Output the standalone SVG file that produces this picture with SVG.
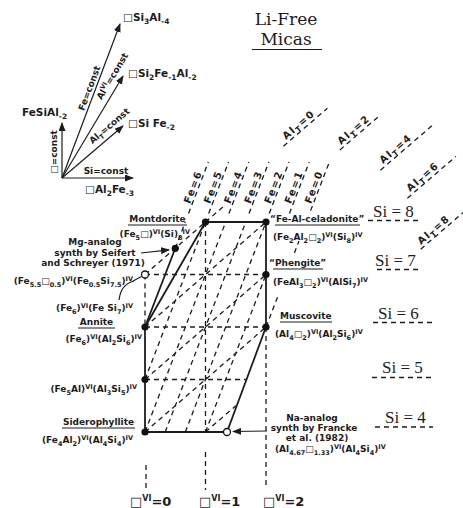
<svg xmlns="http://www.w3.org/2000/svg" width="463" height="508" viewBox="0 0 463 508">
<style>
.t{font-family:"DejaVu Sans",sans-serif;font-weight:bold;font-size:9px;fill:#1c1c1c}
.v{font-size:10.5px}
.b{font-size:6.5px}
.p{font-size:6.5px}
.bv{font-size:7.5px}
.lb{font-size:10px;letter-spacing:1.5px}
.si{font-family:"Liberation Serif",serif;font-size:17px;fill:#1c1c1c}
.ttl{font-family:"DejaVu Serif",serif;font-size:17px;text-anchor:middle;fill:#1c1c1c}
.sol{stroke:#1c1c1c;stroke-width:1.8;fill:none}
.thin{stroke:#1c1c1c;stroke-width:1.2;fill:none}
.dsh{stroke:#1c1c1c;stroke-width:1.3;stroke-dasharray:5 4;fill:none}
.ul{stroke:#1c1c1c;stroke-width:1.2}
.dot{fill:#111}
.opn{fill:#fff;stroke:#111;stroke-width:1.3}
</style>
<defs>
<marker id="ah" markerUnits="userSpaceOnUse" markerWidth="9" markerHeight="7" refX="8" refY="3.5" orient="auto" viewBox="0 0 9 7"><path d="M0,0 L9,3.5 L0,7 z" fill="#1c1c1c"/></marker>
</defs>
<rect width="463" height="508" fill="#fff"/>

<g id="title">
<text class="ttl" x="286" y="25">Li-Free</text>
<text class="ttl" x="286" y="45">Micas</text>
<line class="ul" x1="252" y1="49.5" x2="322" y2="49.5" stroke-width="1.6"/>
</g>

<g id="vector-key">
<g class="thin" stroke-width="1.6">
<line x1="62" y1="178" x2="120" y2="24" marker-end="url(#ah)"/>
<line x1="62" y1="178" x2="123" y2="76" marker-end="url(#ah)"/>
<line x1="62" y1="178" x2="123" y2="126" marker-end="url(#ah)"/>
<line x1="62" y1="178" x2="133" y2="178" marker-end="url(#ah)"/>
<line x1="62" y1="178" x2="62" y2="123" marker-end="url(#ah)"/>
</g>
<text class="t v" x="123" y="21">□Si<tspan class="bv" dy="2.5">3</tspan><tspan dy="-2.5">Al</tspan><tspan class="bv" dy="2.5">-4</tspan></text>
<text class="t v" x="128" y="77">□Si<tspan class="bv" dy="2.5">2</tspan><tspan dy="-2.5">Fe</tspan><tspan class="bv" dy="2.5">-1</tspan><tspan dy="-2.5">Al</tspan><tspan class="bv" dy="2.5">-2</tspan></text>
<text class="t v" x="128" y="127">□Si Fe<tspan class="bv" dy="2.5">-2</tspan></text>
<text class="t v" x="22" y="116">FeSiAl<tspan class="bv" dy="2.5">-2</tspan></text>
<text class="t v" x="85" y="193">□Al<tspan class="bv" dy="2.5">2</tspan><tspan dy="-2.5">Fe</tspan><tspan class="bv" dy="2.5">-3</tspan></text>
<text class="t" x="106" y="174" text-anchor="middle">Si=const</text>
<text class="t" x="57" y="152" text-anchor="middle" transform="rotate(-90 57 152)">□=const</text>
<text class="t" x="92.3" y="89.2" text-anchor="middle" transform="rotate(-69.4 92.3 89.2)">Fe=const</text>
<text class="t" x="115" y="77.8" text-anchor="middle" transform="rotate(-59 115 77.8)">Al<tspan class="b" dy="-3.5">VI</tspan><tspan dy="3.5">=const</tspan></text>
<text class="t" x="111.3" y="128.2" text-anchor="middle" transform="rotate(-40.4 111.3 128.2)">Al<tspan class="b" dy="2.5">T</tspan><tspan dy="-2.5">=const</tspan></text>
</g>

<g id="connectors">
<g id="solid-edges" class="sol">
<path d="M145,432 L145,327"/>
<path d="M145,327 L205.5,222"/>
<path d="M145,327 L175.3,248.3"/>
<path d="M205.5,222 L266,222"/>
<path d="M266,222 L266,327"/>
<path d="M266,327 L228.2,428.8"/>
<path d="M145,432 L223.5,432"/>
</g>
<g id="fe-lines" class="dsh">
<path d="M175.3,248.3 L185.3,222"/>
<path d="M145,379.5 L205.5,222"/>
<path d="M145,432 L225.7,222"/>
<path d="M165.2,432 L245.8,222"/>
<path d="M185.3,432 L266,222"/>
<path d="M205.5,432 L266,274.5"/>
<path d="M266,327 L278,296"/>
<path d="M294.4,253 L299,241"/>
</g>
<g id="alt-lines" class="dsh">
<path d="M145,274.5 L205.5,222"/>
<path d="M205.5,222 L226,204.3"/>
<path d="M145,327 L266,222"/>
<path d="M145,379.5 L266,274.5"/>
<path d="M145,432 L266,327"/>
<path d="M205.5,432 L235.8,405.8"/>
</g>
<g id="grid-lines" class="dsh">
<path d="M145,274.5 L266,274.5"/>
<path d="M145,327 L266,327"/>
<path d="M145,379.5 L245.8,379.5"/>
<path d="M145,274.5 L145,327"/>
<path d="M205.5,222 L205.5,432"/>
<path d="M266,327 L266,488"/>
<path d="M205.5,452 L205.5,490"/>
<path d="M146,465 L146,492"/>
</g>
<g id="label-lines" class="dsh">
<line transform="translate(189.9,204.3) rotate(-68.9)" x1="-9" y1="2" x2="46" y2="2"/>
<line transform="translate(210.1,204.3) rotate(-68.9)" x1="-9" y1="2" x2="46" y2="2"/>
<line transform="translate(230.3,204.3) rotate(-68.9)" x1="-9" y1="2" x2="46" y2="2"/>
<line transform="translate(250.4,204.3) rotate(-68.9)" x1="-9" y1="2" x2="46" y2="2"/>
<line transform="translate(270.6,204.3) rotate(-68.9)" x1="-9" y1="2" x2="46" y2="2"/>
<line transform="translate(290.8,204.3) rotate(-68.9)" x1="-9" y1="2" x2="46" y2="2"/>
<line transform="translate(310.9,204.3) rotate(-68.9)" x1="-6" y1="2" x2="46" y2="2"/>
<line transform="translate(286,140) rotate(-40.8)" x1="-6" y1="3" x2="52" y2="3"/>
<line transform="translate(341,145) rotate(-40.8)" x1="-4" y1="3" x2="50" y2="3"/>
<line transform="translate(383,164) rotate(-40.8)" x1="-6" y1="3" x2="62" y2="3"/>
<line transform="translate(410,192) rotate(-40.8)" x1="-6" y1="3" x2="58" y2="3"/>
<line transform="translate(421,245) rotate(-40.8)" x1="-3" y1="3" x2="58" y2="3"/>
</g>
<g id="si-lines" class="dsh" stroke-dasharray="5 3.5">
<path d="M368,220.5 L418,220.5"/>
<path d="M377,269.5 L421,269.5"/>
<path d="M373,322.5 L432,322.5"/>
<path d="M372,377.5 L433,377.5"/>
<path d="M375,427 L433,427"/>
</g>
<g id="pointers" class="thin">
<path d="M141,253 L169,249.8" marker-end="url(#ah)"/>
<path d="M267,431 L233,431.5" marker-end="url(#ah)"/>
<path d="M133,281 L141.5,276.5"/>
<path d="M119,300 Q121,284 134,281"/>
</g>
</g>

<g id="fe-labels">
<text class="t lb" transform="translate(189.9,204.3) rotate(-68.9)">Fe=6</text>
<text class="t lb" transform="translate(210.1,204.3) rotate(-68.9)">Fe=5</text>
<text class="t lb" transform="translate(230.3,204.3) rotate(-68.9)">Fe=4</text>
<text class="t lb" transform="translate(250.4,204.3) rotate(-68.9)">Fe=3</text>
<text class="t lb" transform="translate(270.6,204.3) rotate(-68.9)">Fe=2</text>
<text class="t lb" transform="translate(290.8,204.3) rotate(-68.9)">Fe=1</text>
<text class="t lb" transform="translate(310.9,204.3) rotate(-68.9)">Fe=0</text>
</g>
<g id="alt-labels">
<text class="t lb" transform="translate(286,140) rotate(-40.8)">Al<tspan class="bv" dy="2.5">T</tspan><tspan dy="-2.5">=0</tspan></text>
<text class="t lb" transform="translate(341,145) rotate(-40.8)">Al<tspan class="bv" dy="2.5">T</tspan><tspan dy="-2.5">=2</tspan></text>
<text class="t lb" transform="translate(383,164) rotate(-40.8)">Al<tspan class="bv" dy="2.5">T</tspan><tspan dy="-2.5">=4</tspan></text>
<text class="t lb" transform="translate(410,192) rotate(-40.8)">Al<tspan class="bv" dy="2.5">T</tspan><tspan dy="-2.5">=6</tspan></text>
<text class="t lb" transform="translate(421,245) rotate(-40.8)">Al<tspan class="bv" dy="2.5">T</tspan><tspan dy="-2.5">=8</tspan></text>
</g>
<g id="si-labels">
<text class="si" x="373" y="217">Si = 8</text>
<text class="si" x="375" y="266">Si = 7</text>
<text class="si" x="378" y="319">Si = 6</text>
<text class="si" x="382" y="373">Si = 5</text>
<text class="si" x="385" y="423">Si = 4</text>
</g>
<g id="vac-labels">
<text class="t" style="font-size:13px" x="130" y="506">□<tspan style="font-size:8px" dy="-5">VI</tspan><tspan dy="5">=0</tspan></text>
<text class="t" style="font-size:13px" x="199" y="506">□<tspan style="font-size:8px" dy="-5">VI</tspan><tspan dy="5">=1</tspan></text>
<text class="t" style="font-size:13px" x="263" y="506">□<tspan style="font-size:8px" dy="-5">VI</tspan><tspan dy="5">=2</tspan></text>
</g>

<g id="montdorite">
<circle class="dot" cx="205.5" cy="222" r="3.6"/>
<text class="t" x="157.5" y="222" text-anchor="middle">Montdorite</text>
<line class="ul" x1="128" y1="225" x2="187" y2="225"/>
<text class="t" x="190" y="237" text-anchor="end">(Fe<tspan class="b" dy="2.5">5</tspan><tspan dy="-2.5">□)</tspan><tspan class="p" dy="-3.5">VI</tspan><tspan dy="3.5">(Si)</tspan><tspan class="b" dy="2.5">8</tspan><tspan class="p" dy="-6">IV</tspan></text>
</g>
<g id="mg-analog">
<circle class="dot" cx="175.3" cy="248.3" r="3.6"/>
<text class="t" x="95" y="245" text-anchor="middle">Mg-analog</text>
<text class="t" x="95" y="256" text-anchor="middle">synth by Seifert</text>
<text class="t" x="93" y="266" text-anchor="middle">and Schreyer (1971)</text>
</g>
<g id="fe-si7">
<circle class="opn" cx="145" cy="274.5" r="3.5"/>
<text class="t" x="133" y="284" text-anchor="end">(Fe<tspan class="b" dy="2.5">5.5</tspan><tspan dy="-2.5">□</tspan><tspan class="b" dy="2.5">0.5</tspan><tspan dy="-2.5">)</tspan><tspan class="p" dy="-3.5">VI</tspan><tspan dy="3.5">(Fe</tspan><tspan class="b" dy="2.5">0.5</tspan><tspan dy="-2.5">Si</tspan><tspan class="b" dy="2.5">7.5</tspan><tspan dy="-2.5">)</tspan><tspan class="p" dy="-3.5">IV</tspan></text>
<text class="t" x="133" y="311" text-anchor="end">(Fe<tspan class="b" dy="2.5">6</tspan><tspan dy="-2.5">)</tspan><tspan class="p" dy="-3.5">VI</tspan><tspan dy="3.5">(Fe Si</tspan><tspan class="b" dy="2.5">7</tspan><tspan dy="-2.5">)</tspan><tspan class="p" dy="-3.5">IV</tspan></text>
</g>
<g id="annite">
<circle class="dot" cx="145" cy="327" r="3.6"/>
<text class="t" x="96.5" y="325" text-anchor="middle">Annite</text>
<line class="ul" x1="78" y1="328" x2="115" y2="328"/>
<text class="t" x="142" y="342" text-anchor="end">(Fe<tspan class="b" dy="2.5">6</tspan><tspan dy="-2.5">)</tspan><tspan class="p" dy="-3.5">VI</tspan><tspan dy="3.5">(Al</tspan><tspan class="b" dy="2.5">2</tspan><tspan dy="-2.5">Si</tspan><tspan class="b" dy="2.5">6</tspan><tspan dy="-2.5">)</tspan><tspan class="p" dy="-3.5">IV</tspan></text>
</g>
<g id="fe5al">
<circle class="dot" cx="145" cy="379.5" r="3.6"/>
<text class="t" x="137" y="392" text-anchor="end">(Fe<tspan class="b" dy="2.5">5</tspan><tspan dy="-2.5">Al)</tspan><tspan class="p" dy="-3.5">VI</tspan><tspan dy="3.5">(Al</tspan><tspan class="b" dy="2.5">3</tspan><tspan dy="-2.5">Si</tspan><tspan class="b" dy="2.5">5</tspan><tspan dy="-2.5">)</tspan><tspan class="p" dy="-3.5">IV</tspan></text>
</g>
<g id="siderophyllite">
<circle class="dot" cx="145" cy="432" r="3.6"/>
<text class="t" x="98.5" y="425" text-anchor="middle">Siderophyllite</text>
<line class="ul" x1="62" y1="428" x2="135" y2="428"/>
<text class="t" x="133" y="443" text-anchor="end">(Fe<tspan class="b" dy="2.5">4</tspan><tspan dy="-2.5">Al</tspan><tspan class="b" dy="2.5">2</tspan><tspan dy="-2.5">)</tspan><tspan class="p" dy="-3.5">VI</tspan><tspan dy="3.5">(Al</tspan><tspan class="b" dy="2.5">4</tspan><tspan dy="-2.5">Si</tspan><tspan class="b" dy="2.5">4</tspan><tspan dy="-2.5">)</tspan><tspan class="p" dy="-3.5">IV</tspan></text>
</g>
<g id="celadonite">
<circle class="dot" cx="266" cy="222" r="3.6"/>
<text class="t" x="270" y="222">“Fe-Al-celadonite”</text>
<line class="ul" x1="275" y1="225" x2="360" y2="225"/>
<text class="t" x="273" y="240">(Fe<tspan class="b" dy="2.5">2</tspan><tspan dy="-2.5">Al</tspan><tspan class="b" dy="2.5">2</tspan><tspan dy="-2.5">□</tspan><tspan class="b" dy="2.5">2</tspan><tspan dy="-2.5">)</tspan><tspan class="p" dy="-3.5">VI</tspan><tspan dy="3.5">(Si</tspan><tspan class="b" dy="2.5">8</tspan><tspan dy="-2.5">)</tspan><tspan class="p" dy="-3.5">IV</tspan></text>
</g>
<g id="phengite">
<circle class="dot" cx="266" cy="274.5" r="3.6"/>
<text class="t" x="269" y="266">“Phengite”</text>
<line class="ul" x1="273" y1="269" x2="323" y2="269"/>
<text class="t" x="273" y="285">(FeAl<tspan class="b" dy="2.5">3</tspan><tspan dy="-2.5">□</tspan><tspan class="b" dy="2.5">2</tspan><tspan dy="-2.5">)</tspan><tspan class="p" dy="-3.5">VI</tspan><tspan dy="3.5">(AlSi</tspan><tspan class="b" dy="2.5">7</tspan><tspan dy="-2.5">)</tspan><tspan class="p" dy="-3.5">IV</tspan></text>
</g>
<g id="muscovite">
<circle class="dot" cx="266" cy="327" r="3.6"/>
<text class="t" x="280" y="319">Muscovite</text>
<line class="ul" x1="280" y1="322" x2="332" y2="322"/>
<text class="t" x="275" y="337">(Al<tspan class="b" dy="2.5">4</tspan><tspan dy="-2.5">□</tspan><tspan class="b" dy="2.5">2</tspan><tspan dy="-2.5">)</tspan><tspan class="p" dy="-3.5">VI</tspan><tspan dy="3.5">(Al</tspan><tspan class="b" dy="2.5">2</tspan><tspan dy="-2.5">Si</tspan><tspan class="b" dy="2.5">6</tspan><tspan dy="-2.5">)</tspan><tspan class="p" dy="-3.5">IV</tspan></text>
</g>
<g id="na-analog">
<circle class="opn" cx="227" cy="432" r="3.5"/>
<text class="t" x="312" y="421" text-anchor="middle">Na-analog</text>
<text class="t" x="314" y="431" text-anchor="middle">synth by Francke</text>
<text class="t" x="317" y="441" text-anchor="middle">et al. (1982)</text>
<text class="t" x="275" y="452">(Al<tspan class="b" dy="2.5">4.67</tspan><tspan dy="-2.5">□</tspan><tspan class="b" dy="2.5">1.33</tspan><tspan dy="-2.5">)</tspan><tspan class="p" dy="-3.5">VI</tspan><tspan dy="3.5">(Al</tspan><tspan class="b" dy="2.5">4</tspan><tspan dy="-2.5">Si</tspan><tspan class="b" dy="2.5">4</tspan><tspan dy="-2.5">)</tspan><tspan class="p" dy="-3.5">IV</tspan></text>
</g>
</svg>
